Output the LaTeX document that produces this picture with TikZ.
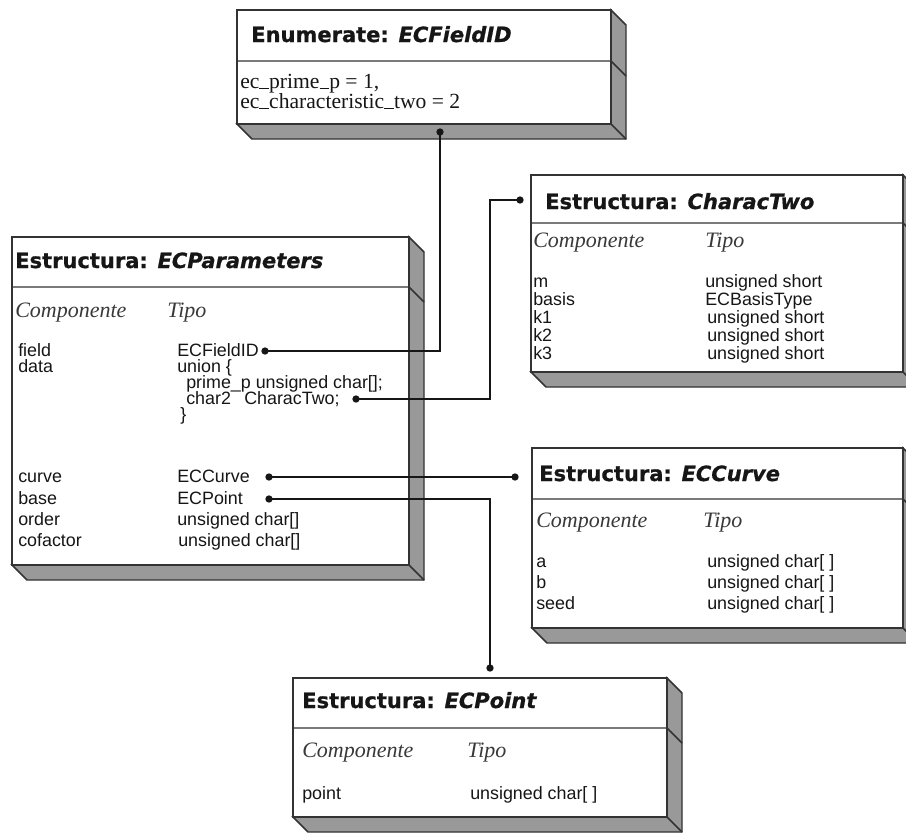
\documentclass[tikz,border=0pt]{standalone}
\usepackage{fontspec}
\usetikzlibrary{fit}
\newfontfamily\headfont{DejaVu Sans}[BoldFeatures={FakeBold=0.8}, BoldItalicFeatures={FakeBold=0.8}]
\newfontfamily\armfont{Liberation Sans}
\newfontfamily\romfont{Liberation Serif}
\definecolor{edge}{HTML}{333333}
\definecolor{slab}{HTML}{999999}
\definecolor{ink}{HTML}{161616}

% low bar drawn as a thin rule sitting on the baseline
\newcommand\lowbar{\rule[-0.6pt]{0.45em}{0.6pt}}

\tikzset{
  boxline/.style={draw=edge, line width=1.1pt, line join=miter},
  front/.style={boxline, fill=white, inner sep=0pt, outer sep=0pt},
  shade/.style={fill=slab},
  head/.style={anchor=base west, inner sep=0pt, text=ink,
    font=\headfont\bfseries\fontsize{15.75}{18}\selectfont},
  colhead/.style={anchor=base west, inner sep=0pt, text=ink!85,
    font=\romfont\itshape\fontsize{16.5}{19}\selectfont},
  member/.style={anchor=base west, inner sep=0pt, text=ink,
    font=\armfont\fontsize{13.4}{15}\selectfont},
  enumval/.style={anchor=base west, inner sep=0pt, text=ink,
    font=\romfont\fontsize{16.2}{19}\selectfont},
  conn/.style={draw=ink, line width=1pt},
  joint/.style={circle, fill=ink, inner sep=0pt, minimum size=5.5pt},
}

% depth of the 3D slab (right side and bottom)
\newcommand\dep{15}
% \slabbox{name}{left}{top}{right}{bottom}{divider y}
\newcommand\slabbox[6]{%
  \filldraw[shade, boxline] (#4,#3) -- (#4+\dep,#3+\dep) -- (#4+\dep,#5+\dep)
     -- (#2+\dep,#5+\dep) -- (#2,#5) -- (#4,#5) -- cycle;
  \draw[boxline] (#4,#5) -- (#4+\dep,#5+\dep);
  \node[front, fit={(#2,#3) (#4,#5)}] (#1) {};
  \draw[boxline] (#2,#6) -- (#4,#6) -- (#4+\dep,#6+\dep);
}

\begin{document}
\begin{tikzpicture}[x=0.75pt, y=-0.75pt]
\clip (0,0) rectangle (906,835);
\fill[white] (0,0) rectangle (906,835);

% ---- Enumerate: ECFieldID
\slabbox{enum}{237}{10}{611}{124}{61}
\node[head] (enumTitle) at (251,42) {Enumerate: \itshape ECFieldID};
\node[enumval] (enumA) at (240,88) {ec\lowbar prime\lowbar p = 1,};
\node[enumval] (enumB) at (240,108) {ec\lowbar characteristic\lowbar two = 2};
\node[joint] (enumJ) at (440,132) {};

% ---- Estructura: ECParameters
\slabbox{params}{12}{237}{409}{565}{287}
\node[head] (paramsTitle) at (15,268) {Estructura: \itshape ECParameters};
\node[colhead] (paramsC) at (15,317) {Componente};
\node[colhead] (paramsT) at (167,317) {Tipo};
\node[member] (pFieldN) at (18,356) {field};
\node[member] (pFieldT) at (177,356) {ECFieldID};
\node[member] (pDataN) at (18,372) {data};
\node[member] (pDataT) at (177,372) {union \{};
\node[member] (pPrime) at (186,388) {prime\_p unsigned char[];};
\node[member] (pChar2) at (186,404) {char2\hspace{10pt}CharacTwo;};
\node[member] (pClose) at (180,420) {\}};
\node[member] (pCurveN) at (18,482) {curve};
\node[member] (pCurveT) at (177,482) {ECCurve};
\node[member] (pBaseN) at (18,504) {base};
\node[member] (pBaseT) at (177,504) {ECPoint};
\node[member] (pOrderN) at (18,525) {order};
\node[member] (pOrderT) at (177,525) {unsigned char[]};
\node[member] (pCofN) at (18,546) {cofactor};
\node[member] (pCofT) at (178,546) {unsigned char[]};
\node[joint] (fieldJ) at (265,351) {};
\node[joint] (char2J) at (356,399) {};
\node[joint] (curveJ) at (269,477) {};
\node[joint] (baseJ) at (269,499) {};

% ---- Estructura: CharacTwo
\slabbox{charac}{531}{175}{903}{372}{223}
\node[head] (characTitle) at (545,209) {Estructura: \itshape CharacTwo};
\node[colhead] (characC) at (533,247) {Componente};
\node[colhead] (characT) at (705,247) {Tipo};
\node[member] (cmN) at (533,287) {m};
\node[member] (cmT) at (705,287) {unsigned short};
\node[member] (cbN) at (533,305) {basis};
\node[member] (cbT) at (705,305) {ECBasisType};
\node[member] (ck1N) at (533,323) {k1};
\node[member] (ck1T) at (707,323) {unsigned short};
\node[member] (ck2N) at (533,341) {k2};
\node[member] (ck2T) at (707,341) {unsigned short};
\node[member] (ck3N) at (533,359) {k3};
\node[member] (ck3T) at (707,359) {unsigned short};
\node[joint] (characJ) at (520,200) {};

% ---- Estructura: ECCurve
\slabbox{curve}{532}{448}{903}{628}{499}
\node[head] (curveTitle) at (539,481) {Estructura: \itshape ECCurve};
\node[colhead] (curveC) at (536,527) {Componente};
\node[colhead] (curveT) at (703,527) {Tipo};
\node[member] (caN) at (536,567) {a};
\node[member] (caT) at (707,567) {unsigned char[ ]};
\node[member] (cbbN) at (536,588) {b};
\node[member] (cbbT) at (707,588) {unsigned char[ ]};
\node[member] (csN) at (536,609) {seed};
\node[member] (csT) at (707,609) {unsigned char[ ]};
\node[joint] (curveBoxJ) at (515,477) {};

% ---- Estructura: ECPoint
\slabbox{point}{293}{678}{667}{817}{728}
\node[head] (pointTitle) at (302,708) {Estructura: \itshape ECPoint};
\node[colhead] (pointC) at (302,757) {Componente};
\node[colhead] (pointT) at (467,757) {Tipo};
\node[member] (ppN) at (302,799) {point};
\node[member] (ppT) at (470,799) {unsigned char[ ]};
\node[joint] (pointJ) at (490,668) {};

% ---- connectors
\coordinate (characBend) at (490,200);
\draw[conn] (fieldJ.center) -| (enumJ.center);
\draw[conn] (char2J.center) -| (characBend) -- (characJ.center);
\draw[conn] (curveJ.center) -- (curveBoxJ.center);
\draw[conn] (baseJ.center) -| (pointJ.center);
\end{tikzpicture}
\end{document}
